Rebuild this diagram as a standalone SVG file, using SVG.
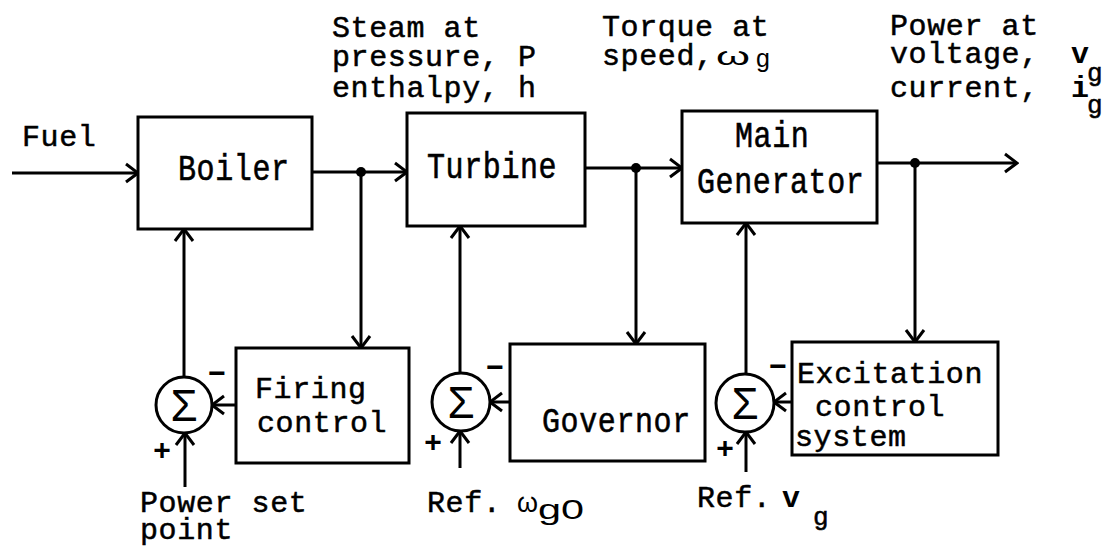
<svg xmlns="http://www.w3.org/2000/svg" width="1109" height="550" viewBox="0 0 1109 550">
<style>
.box{fill:#fff;stroke:#000;stroke-width:3}
.ln{fill:none;stroke:#000;stroke-width:3;marker-end:url(#arr)}
.t{font-family:"Liberation Mono","Courier New",monospace;font-size:30px;letter-spacing:0.6px;fill:#000;stroke:#000;stroke-width:0.5}
.bt{font-family:"Liberation Mono","Courier New",monospace;font-size:30px;letter-spacing:0.6px;fill:#000;stroke:#000;stroke-width:0.5}
.b{font-family:"Liberation Mono","Courier New",monospace;font-size:30px;font-weight:bold;fill:#000}
.h{font-family:"Liberation Sans","DejaVu Sans",sans-serif;font-size:28px;fill:#000}
.sg{font-family:"Liberation Sans","DejaVu Sans",sans-serif;font-size:44px;fill:#000;text-anchor:middle}
.sgn{font-family:"Liberation Sans","DejaVu Sans",sans-serif;font-size:30px;font-weight:bold;fill:#000;text-anchor:middle}
.sum{fill:#fff;stroke:#000;stroke-width:3}
</style>
<defs>
<marker id="arr" viewBox="0 0 16 22" markerUnits="userSpaceOnUse" markerWidth="16" markerHeight="22" refX="14" refY="11" orient="auto">
<path d="M2,2 L14,11 L2,20" fill="none" stroke="#000" stroke-width="3"/>
</marker>
</defs>

<g id="connectors">
<line class="ln" x1="12" y1="173" x2="138" y2="173"/>
<line class="ln" x1="312" y1="172" x2="407" y2="172"/>
<line class="ln" x1="361" y1="172" x2="361" y2="348"/>
<line class="ln" x1="585" y1="168" x2="682" y2="168"/>
<line class="ln" x1="636" y1="168" x2="636" y2="344"/>
<line class="ln" x1="877" y1="163" x2="1017" y2="163"/>
<line class="ln" x1="915" y1="163" x2="915" y2="342"/>
<line class="ln" x1="184" y1="377" x2="184" y2="229"/>
<line class="ln" x1="236" y1="405" x2="212" y2="405"/>
<line class="ln" x1="185" y1="487" x2="185" y2="433"/>
<line class="ln" x1="460" y1="373" x2="460" y2="226"/>
<line class="ln" x1="510" y1="402" x2="490" y2="402"/>
<line class="ln" x1="460" y1="468" x2="460" y2="431"/>
<line class="ln" x1="746" y1="374" x2="746" y2="223"/>
<line class="ln" x1="792" y1="402" x2="774" y2="402"/>
<line class="ln" x1="746" y1="472" x2="746" y2="432"/>
<circle cx="361" cy="172" r="5"/>
<circle cx="636" cy="168" r="5"/>
<circle cx="915" cy="163" r="5"/>
</g>

<g id="fuel-label"><text class="t" x="22" y="146">Fuel</text></g>

<g id="boiler">
<rect class="box" x="138" y="117" width="174" height="112"/>
<text class="bt" transform="translate(178,180) scale(1,1.2)">Boiler</text>
</g>

<g id="turbine">
<rect class="box" x="407" y="113" width="178" height="113"/>
<text class="bt" transform="translate(427,178) scale(1,1.2)">Turbine</text>
</g>

<g id="main-generator">
<rect class="box" x="682" y="111" width="195" height="112"/>
<text class="bt" transform="translate(735,147) scale(1,1.2)">Main</text>
<text class="bt" transform="translate(697,193) scale(1,1.2)">Generator</text>
</g>

<g id="firing-control">
<rect class="box" x="236" y="348" width="173" height="115"/>
<text class="t" x="255" y="398">Firing</text>
<text class="t" x="257" y="432">control</text>
</g>

<g id="governor">
<rect class="box" x="510" y="344" width="195" height="117"/>
<text class="bt" transform="translate(542,432) scale(1,1.15)">Governor</text>
</g>

<g id="excitation">
<rect class="box" x="792" y="342" width="206" height="113"/>
<text class="t" x="797" y="383">Excitation</text>
<text class="t" x="815" y="416">control</text>
<text class="t" x="795" y="446">system</text>
</g>

<g id="sum1">
<circle class="sum" cx="184" cy="405" r="28"/>
<text class="sg" x="184" y="421">Σ</text>
<text class="sgn" x="217" y="383">−</text>
<text class="sgn" x="162" y="460">+</text>
</g>

<g id="sum2">
<circle class="sum" cx="461" cy="402" r="29"/>
<text class="sg" x="461" y="418">Σ</text>
<text class="sgn" x="495" y="377">−</text>
<text class="sgn" x="433" y="452">+</text>
</g>

<g id="sum3">
<circle class="sum" cx="745" cy="403" r="29"/>
<text class="sg" x="745" y="419">Σ</text>
<text class="sgn" x="778" y="376">−</text>
<text class="sgn" x="725" y="458">+</text>
</g>

<g id="steam-label">
<text class="t" x="332" y="37">Steam at</text>
<text class="t" x="332" y="66">pressure, P</text>
<text class="t" x="332" y="97">enthalpy, h</text>
</g>

<g id="torque-label">
<text class="t" x="602" y="36">Torque at</text>
<text class="t" x="602" y="65">speed,</text>
<text class="h" x="716" y="65" style="font-size:26px" textLength="34" lengthAdjust="spacingAndGlyphs">ω</text>
<text class="h" x="756" y="67" style="font-size:25px">g</text>
</g>

<g id="power-label">
<text class="t" x="890" y="35">Power at</text>
<text class="t" x="890" y="63">voltage,</text>
<text class="b" x="1071" y="63">v</text>
<text class="t" x="1087" y="81" style="font-size:26px">g</text>
<text class="t" x="890" y="97">current,</text>
<text class="b" x="1071" y="97">i</text>
<text class="t" x="1087" y="113" style="font-size:26px">g</text>
</g>

<g id="power-set-label">
<text class="t" x="140" y="512">Power set</text>
<text class="t" x="140" y="539">point</text>
</g>

<g id="ref-speed-label">
<text class="t" x="427" y="512">Ref.</text>
<text class="h" x="517" y="512" textLength="21" lengthAdjust="spacingAndGlyphs">ω</text>
<text class="h" x="538" y="519" style="font-size:28px" textLength="46" lengthAdjust="spacingAndGlyphs">g0</text>
</g>

<g id="ref-voltage-label">
<text class="t" x="697" y="507">Ref.</text>
<text class="b" x="782" y="507">v</text>
<text class="t" x="813" y="525" style="font-size:26px">g</text>
</g>
</svg>
